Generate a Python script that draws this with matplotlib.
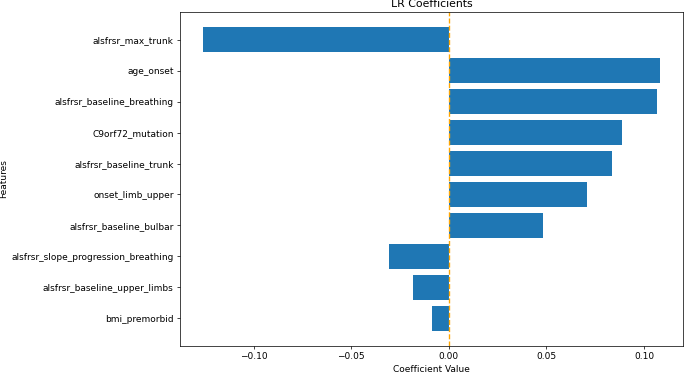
import matplotlib
matplotlib.use("Agg")
import matplotlib.pyplot as plt
import numpy as np

# coefficients of the logistic regression, sorted by absolute value
features = ["alsfrsr_max_trunk", "age_onset", "alsfrsr_baseline_breathing",
            "C9orf72_mutation", "alsfrsr_baseline_trunk", "onset_limb_upper",
            "alsfrsr_baseline_bulbar", "alsfrsr_slope_progression_breathing",
            "alsfrsr_baseline_upper_limbs", "bmi_premorbid"]
coefs = [-0.126, 0.1081, 0.1064, 0.0886, 0.0834, 0.0709, 0.0484,
         -0.0307, -0.0184, -0.0085]

# the reference looks like a default figure scaled down, so draw at a low dpi
dpi = 65
fig = plt.figure(figsize=(685 / dpi, 373 / dpi), dpi=dpi)
ax = fig.add_axes([0.2628, 0.0732, 0.7338, 0.8938])
ax.barh(features, coefs, color='#1f77b4')
ax.axvline(0, color='orange', linestyle='--', linewidth=1.5)
ax.invert_yaxis()
ax.set_xlabel('Coefficient Value')
ax.set_ylabel('Features')
ax.set_title('LR Coefficients')
fig.savefig('out.png', dpi=dpi)
